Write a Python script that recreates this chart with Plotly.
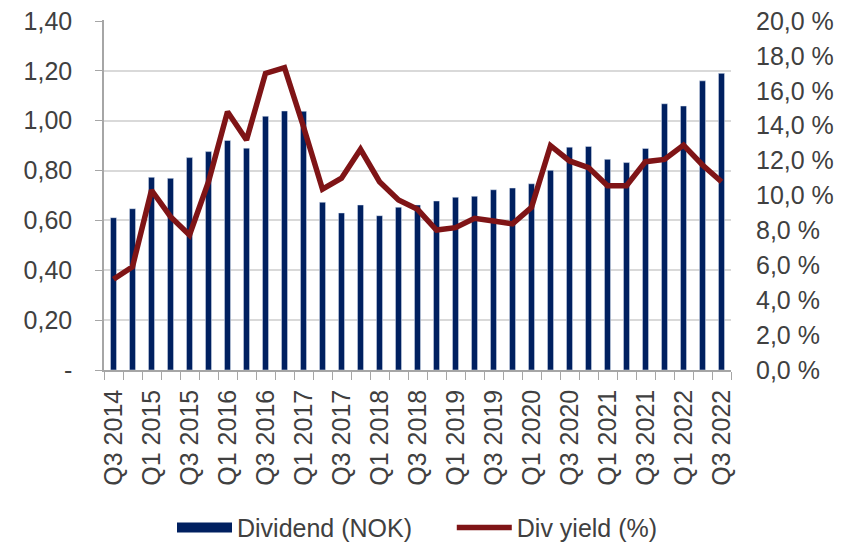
import plotly.graph_objects as go

quarters = []
for y in range(2014, 2023):
    for q in (1, 2, 3, 4):
        if (y == 2014 and q < 3) or (y == 2022 and q > 3):
            continue
        quarters.append(f"Q{q} {y}")

dividend = [0.611, 0.647, 0.773, 0.769, 0.852, 0.876, 0.921, 0.890, 1.018, 1.039, 1.038,
            0.673, 0.630, 0.662, 0.619, 0.653, 0.662, 0.678, 0.693, 0.697, 0.723, 0.730,
            0.747, 0.801, 0.894, 0.897, 0.845, 0.832, 0.889, 1.068, 1.059, 1.160, 1.190]

div_yield = [5.20, 5.92, 10.30, 8.79, 7.74, 10.79, 14.80, 13.18, 17.00, 17.33, 13.94,
             10.36, 10.99, 12.65, 10.79, 9.74, 9.21, 8.02, 8.16, 8.69, 8.54, 8.37,
             9.32, 12.86, 11.98, 11.60, 10.56, 10.56, 11.94, 12.07, 12.89, 11.75, 10.79]

x_ticktext = [q if i % 2 == 0 else "" for i, q in enumerate(quarters)]
left_vals = [0, 0.2, 0.4, 0.6, 0.8, 1.0, 1.2, 1.4]
left_text = ["-", "0,20", "0,40", "0,60", "0,80", "1,00", "1,20", "1,40"]
right_vals = [0, 2, 4, 6, 8, 10, 12, 14, 16, 18, 20]
right_text = [f"{v},0 %" for v in right_vals]

NAVY = "#002060"
RED = "#7F1416"
TXT = "#404040"
FONT = "Liberation Sans, Arial, sans-serif"
FS = 25

# ranges slightly above the top tick so the top gridline is not clipped at the edge
Y1_MAX = 1.404
Y2_MAX = 20 * Y1_MAX / 1.4

fig = go.Figure()
fig.add_trace(go.Bar(x=quarters, y=dividend, name="Dividend (NOK)", marker_color=NAVY,
                     showlegend=False))
fig.add_trace(go.Scatter(x=[None], y=[None], mode="lines",
                         name="Dividend (NOK)" + "\u00a0" * 5,
                         line=dict(color=NAVY, width=14)))
fig.add_trace(go.Scatter(x=quarters, y=div_yield, name="Div yield (%)", mode="lines",
                         line=dict(color=RED, width=5.5), yaxis="y2"))

# page body adds an 8px offset, so the figure is 8px smaller and margins compensate
fig.update_layout(
    width=840, height=535,
    margin=dict(l=96, r=117, t=12, b=173, autoexpand=False),
    plot_bgcolor="white", paper_bgcolor="white",
    font=dict(family=FONT, size=FS, color=TXT),
    bargap=0.68,
    showlegend=True,
    legend=dict(orientation="h", x=0.5, xanchor="center", y=-0.451, yanchor="middle",
                font=dict(size=FS, color=TXT), itemwidth=55, traceorder="normal"),
    xaxis=dict(type="category", tickmode="array", tickvals=quarters, ticktext=x_ticktext,
               tickangle=-90, tickson="boundaries", ticks="outside", ticklen=8,
               tickcolor="#a6a6a6", showline=True, linecolor="#a6a6a6", linewidth=1.5,
               showgrid=False, tickfont=dict(size=FS, color=TXT), ticklabelstandoff=8,
               automargin=False),
    yaxis=dict(range=[0, Y1_MAX], tickmode="array", tickvals=left_vals, ticktext=left_text,
               showgrid=True, gridcolor="#d9d9d9", gridwidth=1.5, showline=True,
               linecolor="#a6a6a6", linewidth=1.5, ticks="outside", ticklen=7,
               tickcolor="#a6a6a6", ticklabelstandoff=18, zeroline=False,
               automargin=False, ticklabeloverflow="allow"),
    yaxis2=dict(range=[0, Y2_MAX], overlaying="y", side="right", tickmode="array",
                tickvals=right_vals, ticktext=right_text, showgrid=False, showline=False,
                ticks="", ticklabelstandoff=24, zeroline=False, automargin=False,
                ticklabeloverflow="allow"),
)

fig.write_html("out.html")
